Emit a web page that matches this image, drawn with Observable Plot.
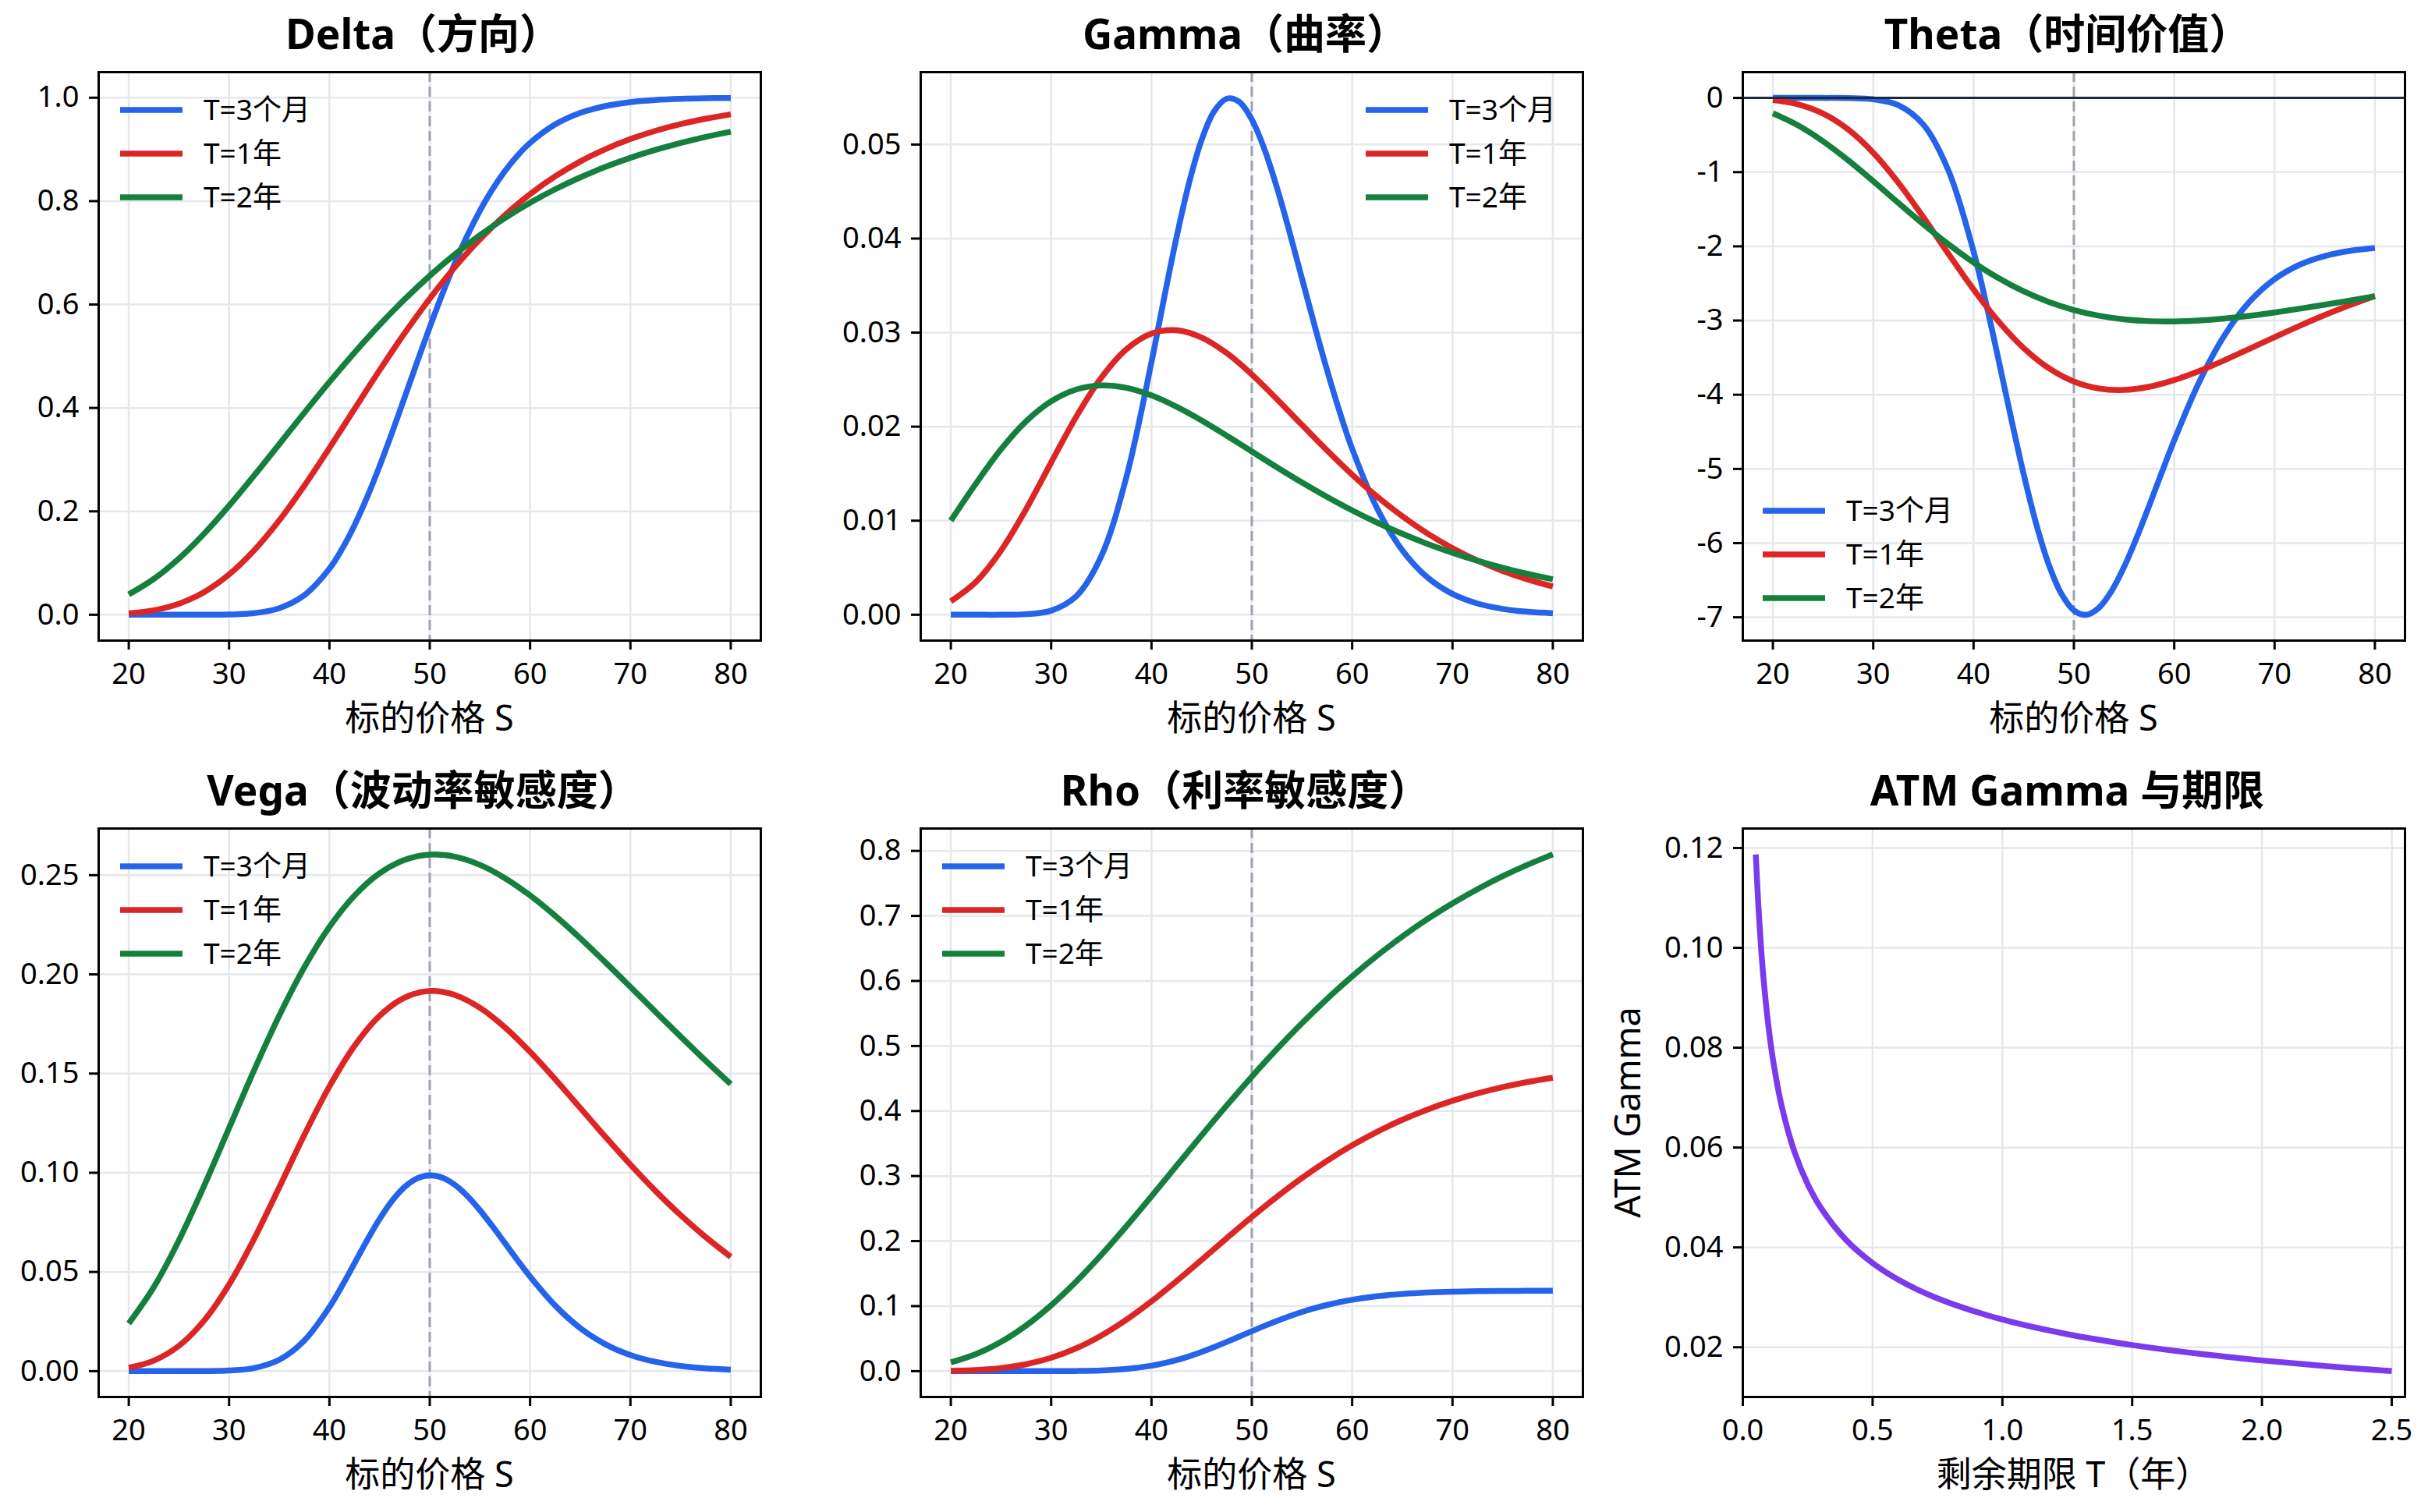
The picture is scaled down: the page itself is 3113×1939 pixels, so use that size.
<!DOCTYPE html>
<html><head><meta charset="utf-8">
<script src="https://cdn.jsdelivr.net/npm/d3@7"></script>
<script src="https://cdn.jsdelivr.net/npm/@observablehq/plot@0.6"></script>
<style>
body{margin:0;background:#fff;}
#fig{position:relative;width:3113px;height:1939px;background:#fff;overflow:hidden;}
</style></head><body><div id="fig"></div>
<script>
// ---------- data ----------
const seriesNames = ["T=3个月", "T=1年", "T=2年"];
const S = [20,22.5,25,27.5,30,32.5,35,37.5,40,42.5,45,47.5,50,52.5,55,57.5,60,62.5,65,67.5,70,72.5,75,77.5,80];
const S3m = [20,22.5,25,27.5,30,32.5,35,37.5,40,41.25,42.5,43.75,45,46.25,47.5,48.75,50,51.25,52.5,53.75,55,56.25,57.5,58.75,60,62.5,65,67.5,70,72.5,75,77.5,80];

const delta3m = [0,0,0,0.0001,0.0005,0.0032,0.0127,0.0379,0.0892,0.1270,0.1732,0.2271,0.2875,0.3527,0.4206,0.4892,0.5563,0.6203,0.6797,0.7336,0.7815,0.8230,0.8585,0.8882,0.9126,0.9483,0.9707,0.9839,0.9915,0.9956,0.9978,0.9989,0.9995];
const delta1y = [0.0028,0.0087,0.0213,0.0437,0.0779,0.1245,0.1826,0.2497,0.3226,0.3980,0.4729,0.5447,0.6115,0.6722,0.7261,0.7731,0.8136,0.8478,0.8766,0.9004,0.9200,0.9360,0.9490,0.9594,0.9678];
const delta2y = [0.0393,0.0693,0.1088,0.1566,0.2109,0.2694,0.3300,0.3908,0.4502,0.5070,0.5606,0.6102,0.6557,0.6970,0.7341,0.7673,0.7969,0.8229,0.8459,0.8661,0.8837,0.8991,0.9125,0.9242,0.9343];

const gamma3m = [0,0,0,0.00006,0.00043,0.00197,0.00624,0.01465,0.02688,0.03364,0.04016,0.04594,0.05051,0.05354,0.05488,0.05454,0.05266,0.04952,0.04543,0.04073,0.03575,0.03077,0.02600,0.02159,0.01765,0.01129,0.00685,0.00397,0.00221,0.00119,0.00062,0.00031,0.00016];
const gamma1y = [0.00143,0.00349,0.00682,0.01122,0.01619,0.02106,0.02521,0.02823,0.02990,0.03026,0.02948,0.02782,0.02555,0.02293,0.02018,0.01747,0.01490,0.01256,0.01047,0.00864,0.00708,0.00576,0.00466,0.00375,0.00300];
const gamma2y = [0.01001,0.01395,0.01759,0.02057,0.02270,0.02395,0.02439,0.02413,0.02332,0.02212,0.02066,0.01904,0.01736,0.01568,0.01406,0.01253,0.01110,0.00979,0.00861,0.00754,0.00659,0.00574,0.00500,0.00434,0.00377];

const theta3m = [0,0,-0.0001,-0.0021,-0.0181,-0.0975,-0.3607,-0.9803,-2.0687,-2.7703,-3.5366,-4.3220,-5.0748,-5.7451,-6.2909,-6.6833,-6.9079,-6.9657,-6.8707,-6.6464,-6.3218,-5.9285,-5.4961,-5.0508,-4.6143,-3.8262,-3.2014,-2.7483,-2.4427,-2.2480,-2.1301,-2.0616,-2.0232];
const theta1y = [-0.0278,-0.0867,-0.2108,-0.4245,-0.7378,-1.1415,-1.6090,-2.1025,-2.5823,-3.0137,-3.3717,-3.6424,-3.8224,-3.9166,-3.9355,-3.8927,-3.8028,-3.6798,-3.5357,-3.3811,-3.2243,-3.0712,-2.9262,-2.7920,-2.6700];
const theta2y = [-0.2069,-0.3701,-0.5846,-0.8401,-1.1220,-1.4144,-1.7020,-1.9727,-2.2172,-2.4298,-2.6075,-2.7499,-2.8583,-2.9353,-2.9842,-3.0087,-3.0126,-2.9997,-2.9731,-2.9360,-2.8911,-2.8408,-2.7869,-2.7309,-2.6743];

const vega3m = [0,0,0,0.00003,0.00029,0.00156,0.00573,0.01545,0.03226,0.04292,0.05441,0.06595,0.07670,0.08589,0.09287,0.09721,0.09874,0.09754,0.09391,0.08826,0.08112,0.07302,0.06447,0.05590,0.04766,0.03306,0.02170,0.01357,0.00813,0.00469,0.00262,0.00142,0.00075];
const vega1y = [0.00172,0.00531,0.01278,0.02545,0.04370,0.06673,0.09266,0.11908,0.14352,0.16398,0.17911,0.18830,0.19163,0.18962,0.18316,0.17325,0.16093,0.14714,0.13265,0.11814,0.10409,0.09084,0.07862,0.06755,0.05766];
const vega2y = [0.02402,0.04237,0.06595,0.09332,0.12257,0.15180,0.17925,0.20359,0.22392,0.23974,0.25096,0.25770,0.26034,0.25932,0.25520,0.24850,0.23979,0.22954,0.21819,0.20611,0.19368,0.18111,0.16866,0.15646,0.14466];

const rho3m = [0,0,0,0,0.00004,0.00025,0.00105,0.00335,0.00833,0.01218,0.01701,0.02283,0.02953,0.03697,0.04493,0.05318,0.06147,0.06956,0.07727,0.08442,0.09092,0.09670,0.10174,0.10606,0.10969,0.11515,0.11870,0.12089,0.12218,0.12292,0.12332,0.12354,0.12365];
const rho1y = [0.00051,0.00178,0.00479,0.01068,0.02055,0.03515,0.05476,0.07909,0.10737,0.13849,0.17126,0.20445,0.23701,0.26808,0.29703,0.32348,0.34722,0.36819,0.38650,0.40227,0.41574,0.42713,0.43671,0.44468,0.45130];
const rho2y = [0.01339,0.02617,0.04497,0.07013,0.10136,0.13793,0.17884,0.22289,0.26893,0.31584,0.36265,0.40854,0.45288,0.49518,0.53511,0.57246,0.60712,0.63907,0.66836,0.69505,0.71929,0.74122,0.76099,0.77874,0.79468];

const Tatm = [0.05,0.06,0.07,0.08,0.1,0.12,0.15,0.2,0.25,0.3,0.4,0.5,0.6,0.75,1.0,1.25,1.5,1.75,2.0,2.25,2.5];
const gammaAtm = [0.11870,0.10832,0.10024,0.09373,0.08377,0.07641,0.06826,0.05900,0.05266,0.04798,0.04138,0.03687,0.03352,0.02980,0.02555,0.02262,0.02045,0.01874,0.01736,0.01620,0.01522];

const strike = 50;
const sTicks = [20,30,40,50,60,70,80];
const deltaTicks = [0,0.2,0.4,0.6,0.8,1.0];
const gammaTicks = [0,0.01,0.02,0.03,0.04,0.05];
const thetaTicks = [0,-1,-2,-3,-4,-5,-6,-7];
const vegaTicks = [0,0.05,0.10,0.15,0.20,0.25];
const rhoTicks = [0,0.1,0.2,0.3,0.4,0.5,0.6,0.7,0.8];
const atmXTicks = [0,0.5,1.0,1.5,2.0,2.5];
const atmYTicks = [0.02,0.04,0.06,0.08,0.10,0.12];

// ---------- styling ----------
const FONT = '"Noto Sans","Noto Sans CJK SC",sans-serif';
const colors = ["#2563eb", "#dc2626", "#15803d"];
const purple = "#7c3aed";
const LW = 7.5;
const ML = 150, MR = 20, MT = 20, MB = 150;
const colX = [126, 1180, 2234];
const rowY = [92, 1062];
const FW = 849, FH = 729;

const toRows = (xs, ys) => xs.map((x, i) => ({x, y: ys[i]}));
const f1 = d3.format(".1f"), f2 = d3.format(".2f");

const panels = [
  {title: "Delta（方向）", col: 0, row: 0, series: [[S3m, delta3m],[S, delta1y],[S, delta2y]], yDomain: [-0.04998, 1.04948], yTicks: deltaTicks, yFmt: f1, legend: "ul", xlabel: "标的价格 S"},
  {title: "Gamma（曲率）", col: 1, row: 0, series: [[S3m, gamma3m],[S, gamma1y],[S, gamma2y]], yDomain: [-0.00275, 0.0577], yTicks: gammaTicks, yFmt: f2, legend: "ur", xlabel: "标的价格 S"},
  {title: "Theta（时间价值）", col: 2, row: 0, series: [[S3m, theta3m],[S, theta1y],[S, theta2y]], yDomain: [-7.314, 0.348], yTicks: thetaTicks, yFmt: d => String(d), legend: "ll", zero: true, xlabel: "标的价格 S"},
  {title: "Vega（波动率敏感度）", col: 0, row: 1, series: [[S3m, vega3m],[S, vega1y],[S, vega2y]], yDomain: [-0.01303, 0.27353], yTicks: vegaTicks, yFmt: f2, legend: "ul", xlabel: "标的价格 S"},
  {title: "Rho（利率敏感度）", col: 1, row: 1, series: [[S3m, rho3m],[S, rho1y],[S, rho2y]], yDomain: [-0.03973, 0.83441], yTicks: rhoTicks, yFmt: f1, legend: "ul", xlabel: "标的价格 S"}
];

const fig = document.getElementById("fig");
const grid = {stroke: "#e5e7eb", strokeOpacity: 1, strokeWidth: 2.5};
const axisCommon = {tickSize: 12, strokeWidth: 3, fontSize: 38, label: null};

function place(svg, fx, fy) {
  svg.style.position = "absolute";
  svg.style.left = (fx - ML) + "px";
  svg.style.top = (fy - MT) + "px";
  svg.style.margin = "0";
  fig.appendChild(svg);
}

function basePlot(xDomain, yDomain, marks) {
  return Plot.plot({
    width: ML + FW + MR, height: MT + FH + MB,
    marginLeft: ML, marginRight: MR, marginTop: MT, marginBottom: MB,
    style: {fontFamily: FONT, fontSize: "38px", color: "#000", background: "transparent", overflow: "visible"},
    x: {domain: xDomain, label: null},
    y: {domain: yDomain, label: null},
    marks
  });
}

for (const p of panels) {
  const fx = colX[p.col], fy = rowY[p.row];
  const marks = [
    Plot.gridX(sTicks, grid),
    Plot.gridY(p.yTicks, grid),
    Plot.ruleX([strike], {stroke: "#9ca3af", strokeWidth: 3, strokeDasharray: "13,6"}),
    ...p.series.map(([xs, ys], i) => Plot.line(toRows(xs, ys), {x: "x", y: "y", stroke: colors[i], strokeWidth: LW, curve: "catmull-rom", strokeLinecap: "butt"}))
  ];
  if (p.zero) marks.push(Plot.ruleY([0], {stroke: "#1e293b", strokeWidth: 3}));
  marks.push(
    Plot.axisX(sTicks, {...axisCommon, tickPadding: 17, tickFormat: d => String(d)}),
    Plot.axisY(p.yTicks, {...axisCommon, tickPadding: 13, tickFormat: p.yFmt}),
    Plot.frame({stroke: "#000", strokeWidth: 3})
  );
  place(basePlot([17, 83], p.yDomain, marks), fx, fy);
}

// ATM Gamma panel
{
  const fx = colX[2], fy = rowY[1];
  const marks = [
    Plot.gridX(atmXTicks, grid),
    Plot.gridY(atmYTicks, grid),
    Plot.line(toRows(Tatm, gammaAtm), {x: "x", y: "y", stroke: purple, strokeWidth: LW, curve: "catmull-rom", strokeLinecap: "butt"}),
    Plot.axisX(atmXTicks, {...axisCommon, tickPadding: 17, tickFormat: f1}),
    Plot.axisY(atmYTicks, {...axisCommon, tickPadding: 13, tickFormat: f2}),
    Plot.frame({stroke: "#000", strokeWidth: 3})
  ];
  place(basePlot([0, 2.551], [0.01004, 0.1239], marks), fx, fy);
}

// ---------- titles, axis labels, legends (overlay) ----------
const ov = d3.select(fig).append("svg")
  .attr("width", 3113).attr("height", 1939)
  .style("position", "absolute").style("left", "0px").style("top", "0px")
  .style("font-family", FONT);

const allTitles = [...panels.map(p => ({t: p.title, col: p.col, row: p.row, xl: p.xlabel, legend: p.legend})),
  {t: "ATM Gamma 与期限", col: 2, row: 1, xl: "剩余期限 T（年）", legend: null}];

for (const p of allTitles) {
  const fx = colX[p.col], fy = rowY[p.row];
  const cx = fx + FW / 2;
  ov.append("text").attr("x", cx - 8).attr("y", fy - 29).attr("text-anchor", "middle")
    .attr("font-size", 53).attr("font-weight", "bold").attr("fill", "#000").text(p.t);
  ov.append("text").attr("x", cx).attr("y", fy + FH + 116).attr("text-anchor", "middle")
    .attr("font-size", 45).attr("fill", "#000").text(p.xl);
  if (p.legend) {
    let lx, ly;
    if (p.legend === "ul") { lx = fx + 28; ly = fy + 49; }
    else if (p.legend === "ur") { lx = fx + FW - 278; ly = fy + 49; }
    else { lx = fx + 26; ly = fy + FH - 166; }
    seriesNames.forEach((name, i) => {
      const y = ly + i * 56;
      ov.append("line").attr("x1", lx).attr("x2", lx + 80).attr("y1", y).attr("y2", y)
        .attr("stroke", colors[i]).attr("stroke-width", LW);
      ov.append("text").attr("x", lx + 107).attr("y", y + 13).attr("font-size", 37)
        .attr("fill", "#000").text(name);
    });
  }
}
// y label of ATM panel
{
  const fx = colX[2], fy = rowY[1];
  ov.append("text").attr("transform", `translate(${fx - 131},${fy + FH / 2}) rotate(-90)`)
    .attr("text-anchor", "middle").attr("font-size", 45).attr("fill", "#000").text("ATM Gamma");
}
</script></body></html>
